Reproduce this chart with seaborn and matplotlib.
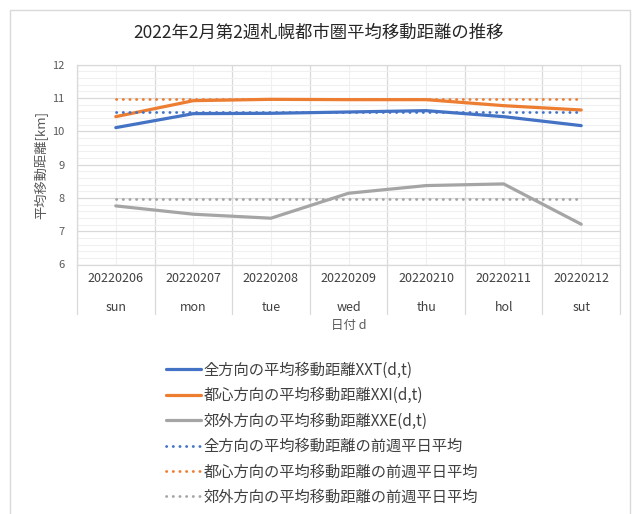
import matplotlib
matplotlib.use("Agg")
import matplotlib.pyplot as plt
import seaborn as sns
import pandas as pd
import numpy as np
from matplotlib.patches import Rectangle
from matplotlib.lines import Line2D

dates = ["20220206", "20220207", "20220208", "20220209", "20220210", "20220211", "20220212"]
weekdays = ["sun", "mon", "tue", "wed", "thu", "hol", "sut"]
xxt = [10.11, 10.53, 10.54, 10.58, 10.62, 10.44, 10.17]
xxi = [10.44, 10.92, 10.96, 10.95, 10.95, 10.77, 10.64]
xxe = [7.76, 7.51, 7.39, 8.14, 8.37, 8.42, 7.21]
prev_t = 10.59
prev_i = 10.96
prev_e = 7.98

labels = ["全方向の平均移動距離XXT(d,t)", "都心方向の平均移動距離XXI(d,t)", "郊外方向の平均移動距離XXE(d,t)",
          "全方向の平均移動距離の前週平日平均", "都心方向の平均移動距離の前週平日平均", "郊外方向の平均移動距離の前週平日平均"]
colors = ["#4472C4", "#ED7D31", "#A5A5A5"]

sns.set_theme(style="white")
plt.rcParams['font.family'] = ['Noto Sans CJK JP', 'DejaVu Sans']

fig = plt.figure(figsize=(6.38, 5.14), dpi=100)
ax = fig.add_axes([77/638, 1 - 264.5/514, (620-77)/638, (264.5-64.7)/514])

idx = list(range(len(dates)))
rows = []
for name, vals in zip(labels[:3], [xxt, xxi, xxe]):
    for i, v in zip(idx, vals):
        rows.append({"x": i, "y": v, "series": name})
for name, v in zip(labels[3:], [prev_t, prev_i, prev_e]):
    for i in idx:
        rows.append({"x": i, "y": v, "series": name})
df = pd.DataFrame(rows)

palette = dict(zip(labels, colors + colors))
for k, name in enumerate(labels):
    sub = df[df.series == name]
    if k < 3:
        sns.lineplot(data=sub, x="x", y="y", color=palette[name], lw=2.3, ax=ax,
                     legend=False, zorder=3)
    else:
        sns.lineplot(data=sub, x="x", y="y", color=palette[name], lw=2.0, ax=ax,
                     legend=False, zorder=3, linestyle=(0, (0.1, 2.3)),
                     dash_capstyle="round")

ax.set_xlim(-0.5, 6.5)
ax.set_ylim(6, 12)
ax.set_yticks(np.arange(6, 12.01, 1))
ax.set_yticks(np.arange(6, 12.01, 0.2), minor=True)
ax.set_xticks(np.arange(-0.5, 6.6, 1))
ax.set_xticks(idx, minor=True)
ax.set_xticklabels([])
ax.tick_params(axis="x", which="both", length=0)
ax.tick_params(axis="y", which="both", length=0, labelsize=8, labelcolor="#595959", pad=9)
ax.grid(True, which="major", color="#d9d9d9", lw=0.9)
ax.grid(True, which="minor", color="#f0f0f0", lw=0.8)
ax.set_axisbelow(True)
for s in ax.spines.values():
    s.set_color("#d9d9d9")
    s.set_linewidth(0.9)
ax.set_xlabel("")
ax.set_ylabel("平均移動距離[km]", fontsize=9.5, color="#595959", labelpad=3)

trans = ax.get_xaxis_transform()
for i, (d, w) in enumerate(zip(dates, weekdays)):
    ax.text(i, -14.5/200, d, transform=trans, ha="center", va="center", fontsize=9, color="#404040")
    ax.text(i, -43.5/200, w, transform=trans, ha="center", va="center", fontsize=9, color="#404040")
for b in np.arange(-0.5, 6.6, 1):
    ax.plot([b, b], [0, -50/200], transform=trans, color="#d9d9d9", lw=0.9, clip_on=False)
ax.text(3, -61/200, "日付 d", transform=trans, ha="center", va="center", fontsize=9, color="#595959")

fig.text(0.5, 1 - 33/514, "2022年2月第2週札幌都市圏平均移動距離の推移", ha="center", va="center",
         fontsize=12.5, color="#262626")

handles = []
for k in range(6):
    if k < 3:
        handles.append(Line2D([], [], color=colors[k], lw=2.3))
    else:
        handles.append(Line2D([], [], color=colors[k-3], lw=2.0, linestyle=(0, (0.1, 2.3)),
                              dash_capstyle="round"))
leg = fig.legend(handles, labels, loc="upper left", bbox_to_anchor=(152/638, 1 - 348/514),
                 frameon=False, fontsize=11, labelspacing=0.55, handlelength=2.3,
                 handletextpad=0.2, labelcolor="#404040")

fig.patches.append(Rectangle((10/638, -0.02), (630-10)/638, 1 - 10/514 + 0.02, transform=fig.transFigure,
                             fill=False, edgecolor="#d9d9d9", lw=1.0))

fig.savefig("out.png", dpi=100)
